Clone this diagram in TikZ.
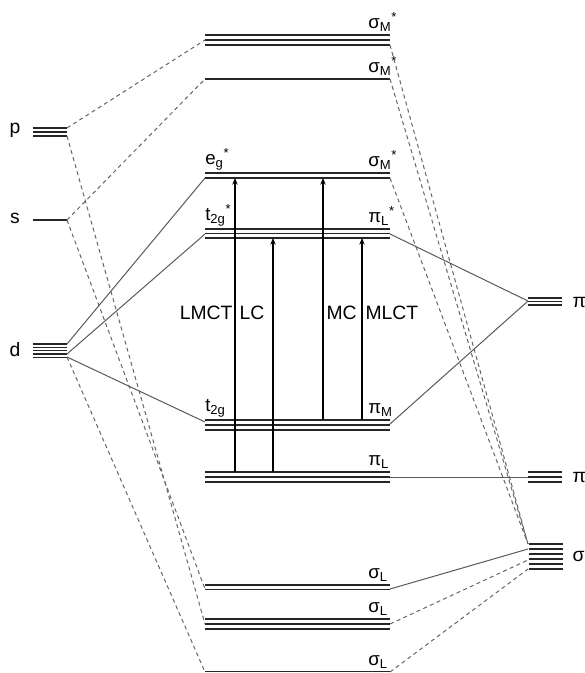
\documentclass[tikz,border=0pt]{standalone}
\usepackage{amsmath}
\usepackage{fontspec}
\setmainfont{Liberation Sans}
\usetikzlibrary{arrows.meta}
\newcommand{\mo}[3]{$\text{#1}_{\text{#2}}{}^{\text{#3}}$}
\newcommand{\levels}[3]{\foreach \ly in {#3} \draw[lvl] (#1,\ly) -- (#2,\ly);}

\begin{document}
\begin{tikzpicture}[x=0.75pt, y=-0.75pt, >={Stealth[length=5pt,width=4pt]},
    lvl/.style={line width=1.1pt, black!85},
    con/.style={line width=0.75pt, black!65},
    dcon/.style={line width=0.75pt, black!60, dash pattern=on 3pt off 2.5pt},
    trans/.style={->, line width=0.8pt},
    lab/.style={font=\fontsize{14.5}{16}\selectfont},
    tag/.style={font=\fontsize{14}{16}\selectfont, inner sep=0pt}]
  \useasboundingbox (0,0) rectangle (584,673);
  % metal orbitals
  \levels{33}{67}{128,132,136}
  \levels{33}{67}{220}
  \levels{33}{67}{344,347.3,350.7,354,357.3}
  \node[lab] (lp) at (15,130) {p};
  \node[lab] (ls) at (15,218) {s};
  \node[lab] (ld) at (15,350) {d};
  % complex orbitals
  \levels{205}{390}{35,40,45}
  \levels{205}{390}{79}
  \levels{205}{390}{173,178}
  \levels{205}{390}{229,233.5,238}
  \levels{205}{390}{420,425,430}
  \levels{205}{390}{472,477,482}
  \levels{205}{390}{585,589.5}
  \levels{205}{390}{619,624,629}
  \levels{205}{390}{671.5}
  \node[tag, anchor=south west] (smA) at (368,32) {\mo{σ}{M}{*}};
  \node[tag, anchor=south west] (smB) at (368,76) {\mo{σ}{M}{*}};
  \node[tag, anchor=south west] (eg) at (205,170) {\mo{e}{g}{*}};
  \node[tag, anchor=south west] (smC) at (368,170) {\mo{σ}{M}{*}};
  \node[tag, anchor=south west] (tgs) at (205,226) {\mo{t}{2g}{*}};
  \node[tag, anchor=south west] (pls) at (368,226) {\mo{π}{L}{*}};
  \node[tag, anchor=south west] (tg) at (205,417) {\mo{t}{2g}{}};
  \node[tag, anchor=south west] (pm) at (368,417) {\mo{π}{M}{}};
  \node[tag, anchor=south west] (pl) at (368,469) {\mo{π}{L}{}};
  \node[tag, anchor=south west] (slA) at (368,582) {\mo{σ}{L}{}};
  \node[tag, anchor=south west] (slB) at (368,616) {\mo{σ}{L}{}};
  \node[tag, anchor=south west] (slC) at (368,669) {\mo{σ}{L}{}};
  % ligand orbitals
  \levels{528}{562}{298,301.5,305}
  \levels{528}{562}{472,477,482}
  \levels{529}{563}{544,549,554,559,564,569}
  \node[lab, anchor=west] (lpis) at (568,301) {π*};
  \node[lab, anchor=west] (lpi) at (568,477) {π};
  \node[lab, anchor=west] (lsig) at (568,556) {σ};
  % end points of the correlation lines
  \coordinate (p1) at (67,128); \coordinate (p3) at (67,136);
  \coordinate (s0) at (67,220);
  \coordinate (d1) at (67,344); \coordinate (d4) at (67,354); \coordinate (d5) at (67,357);
  \coordinate (smA-l) at (205,40);  \coordinate (smA-r) at (390,45);
  \coordinate (smB-l) at (205,79);  \coordinate (smB-r) at (390,79);
  \coordinate (eg-l) at (205,178);  \coordinate (eg-r) at (390,178);
  \coordinate (tgs-l) at (205,234); \coordinate (tgs-r) at (390,234);
  \coordinate (tg-l) at (205,422);  \coordinate (tg-r) at (390,424);
  \coordinate (pl-r) at (390,477);
  \coordinate (slA-l) at (205,589); \coordinate (slA-r) at (390,589);
  \coordinate (slB-l) at (205,624); \coordinate (slB-r) at (390,624);
  \coordinate (slC-l) at (205,672); \coordinate (slC-r) at (390,672);
  \coordinate (pis) at (528,301); \coordinate (pi) at (528,477);
  \coordinate (sg1) at (528,544); \coordinate (sg2) at (528,549);
  \coordinate (sg3) at (528,560); \coordinate (sg4) at (528,569);
  % solid correlations
  \foreach \a/\b in {d1/eg-l, d4/tgs-l, d5/tg-l, tgs-r/pis, tg-r/pis, pl-r/pi, slA-r/sg2}
    \draw[con] (\a) -- (\b);
  % dashed correlations
  \foreach \a/\b in {p1/smA-l, s0/smB-l, p3/slB-l, s0/slA-l, d5/slC-l,
      smA-r/sg1, smB-r/sg1, eg-r/sg1, slB-r/sg3, slC-r/sg4}
    \draw[dcon] (\a) -- (\b);
  % transitions
  \draw[trans] (235,472) -- (235,178);
  \draw[trans] (273,472) -- (273,238);
  \draw[trans] (323,420) -- (323,178);
  \draw[trans] (362,420) -- (362,238);
  \node[lab, anchor=east, inner sep=1pt] (lmct) at (234,313) {LMCT};
  \node[lab, anchor=west, inner sep=1pt] (lc) at (238,313) {LC};
  \node[lab, anchor=west, inner sep=1pt] (mc) at (325,313) {MC};
  \node[lab, anchor=west, inner sep=1pt] (mlct) at (364,313) {MLCT};
\end{tikzpicture}
\end{document}
